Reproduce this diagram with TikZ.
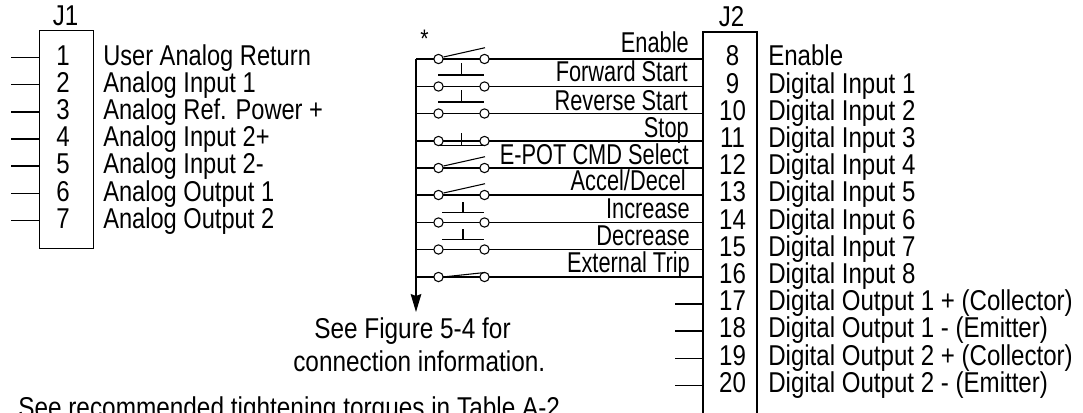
\documentclass[tikz,border=0pt]{standalone}
\usepackage{fontspec}
\setmainfont[FakeStretch=0.84]{Liberation Sans}
\newfontfamily\midfont[FakeStretch=0.76]{Liberation Sans}
\newfontfamily\bottomfont[FakeStretch=0.85]{Liberation Sans}
\newfontfamily\leftfont[FakeStretch=0.825]{Liberation Sans}
\usetikzlibrary{arrows.meta}
\tikzset{
  wire/.style={line width=0.8pt,black},
  barline/.style={line width=1.2pt,black},
  lbl/.style={inner sep=0pt,font=\fontsize{21.5}{22}\selectfont,anchor=base west},
  lbll/.style={inner sep=0pt,font=\leftfont\fontsize{21.5}{22}\selectfont,anchor=base west},
  lblr/.style={inner sep=0pt,font=\midfont\fontsize{21.5}{22}\selectfont,anchor=base east},
  num/.style={inner sep=0pt,font=\fontsize{21.5}{22}\selectfont,anchor=base},
  note/.style={inner sep=0pt,font=\bottomfont\fontsize{21.5}{22}\selectfont,anchor=base west},
  term/.style={circle,draw,fill=white,line width=0.8pt,minimum size=7pt,inner sep=0pt,outer sep=0pt},
}
\begin{document}
\begin{tikzpicture}[x=0.75pt,y=-0.75pt]
\useasboundingbox (0,0) rectangle (1083,412);
\fill[white] (0,0) rectangle (1083,412);
% J1
\node[num] (j1) at (65.5,25) {J1};
\node[draw,wire,minimum width=40.5pt,minimum height=163.5pt,inner sep=0pt,anchor=north west] (boxa) at (39,30) {};
\foreach \n/\y/\t in {1/57.5/User Analog Return,2/84.5/Analog Input 1,3/112/Analog Ref. Power +,4/139/Analog Input 2+,5/166/Analog Input 2-,6/193.5/Analog Output 1,7/220.5/Analog Output 2}{
  \node[num] (an\n) at (63,\y+7.5) {\n};
  \node[lbll] (at\n) at (103,\y+7.5) {\t};
  \coordinate (aw\n) at (11,\y);
  \coordinate (ae\n) at (39,\y);
  \draw[wire] (aw\n) -- (ae\n);
}
% J2
\node[num] (j2) at (731.5,26) {J2};
\coordinate (b1) at (703,413); \coordinate (b2) at (703,32); \coordinate (b3) at (757,32); \coordinate (b4) at (757,413);
\draw[wire] (b1) -- (b2) -- (b3) -- (b4);
\foreach \n/\y/\t in {8/59/Enable,9/86.5/Digital Input 1,10/113.5/Digital Input 2,11/141/Digital Input 3,12/168/Digital Input 4,13/195/Digital Input 5,14/222.5/Digital Input 6,15/249.5/Digital Input 7,16/277/Digital Input 8,17/304/Digital Output 1 + (Collector),18/331/Digital Output 1 - (Emitter),19/358.5/Digital Output 2 + (Collector),20/385.5/Digital Output 2 - (Emitter)}{
  \node[num] (bn\n) at (732.5,\y+6.5) {\n};
  \node[lbl] (bt\n) at (768,\y+6.5) {\t};
}
\foreach \n/\y in {17/304,18/331,19/358.5,20/385.5}{
  \coordinate (bw\n) at (675,\y); \coordinate (be\n) at (703,\y);
  \draw[wire] (bw\n) -- (be\n);
}
% bus
\coordinate (bust) at (416,59);
\coordinate (busb) at (416,312);
\draw[wire,-{Stealth[length=13.5pt,width=8pt,inset=1.5pt]}] (bust) -- (busb);
\node[lbl] (star) at (420,47) {\fontsize{19}{19}\selectfont *};
% rows
\foreach \k/\y/\t/\tx/\dy in {1/59/Enable/689/7,2/86.5/Forward Start/688/5,3/113.5/Reverse Start/688/3,4/141/Stop/689/4,5/168/E-POT CMD Select/689/3.7,6/195/Accel\slash Decel/686/5,7/222.5/Increase/690/4.5,8/249.5/Decrease/690/3.8,9/277/External Trip/690/5}{
  \coordinate (bl\k) at (416,\y);
  \coordinate (be\k) at (703,\y);
  \draw[wire] (bl\k) -- (be\k);
  \node[term] (l\k) at (438.5,\y) {};
  \node[term] (r\k) at (484.5,\y) {};
  \node[lblr] (t\k) at (\tx,\y-\dy) {\t};
}
% normally open switches
\foreach \k/\y in {1/59,5/168,6/195}{
  \draw[wire] (443.5,\y-2) -- (485,\y-11.3);
}
\draw[wire] (442.7,277) -- (485,272.5);
% push buttons
\foreach \y in {86.5,113.5}{
  \draw[wire] (438.3,\y-11.5) -- (484.3,\y-11.5);
  \draw[wire] (461.7,\y-11.5) -- (461.7,\y-23.8);
}
\draw[wire] (438.3,145.7) -- (484.3,145.7);
\draw[wire] (461.7,145.7) -- (461.7,133.3);
\foreach \y in {222.5,249.5}{
  \draw[barline] (442.3,\y-10.2) -- (483.7,\y-10.2);
  \draw[barline] (462.7,\y-10.2) -- (462.7,\y-20.8);
}
% notes
\node[note] (n1) at (314,338) {See Figure 5-4 for};
\node[note] (n2) at (293,371) {connection information.};
\node[note] (n3) at (18,417) {See recommended tightening torques in Table A-2};
\end{tikzpicture}
\end{document}
